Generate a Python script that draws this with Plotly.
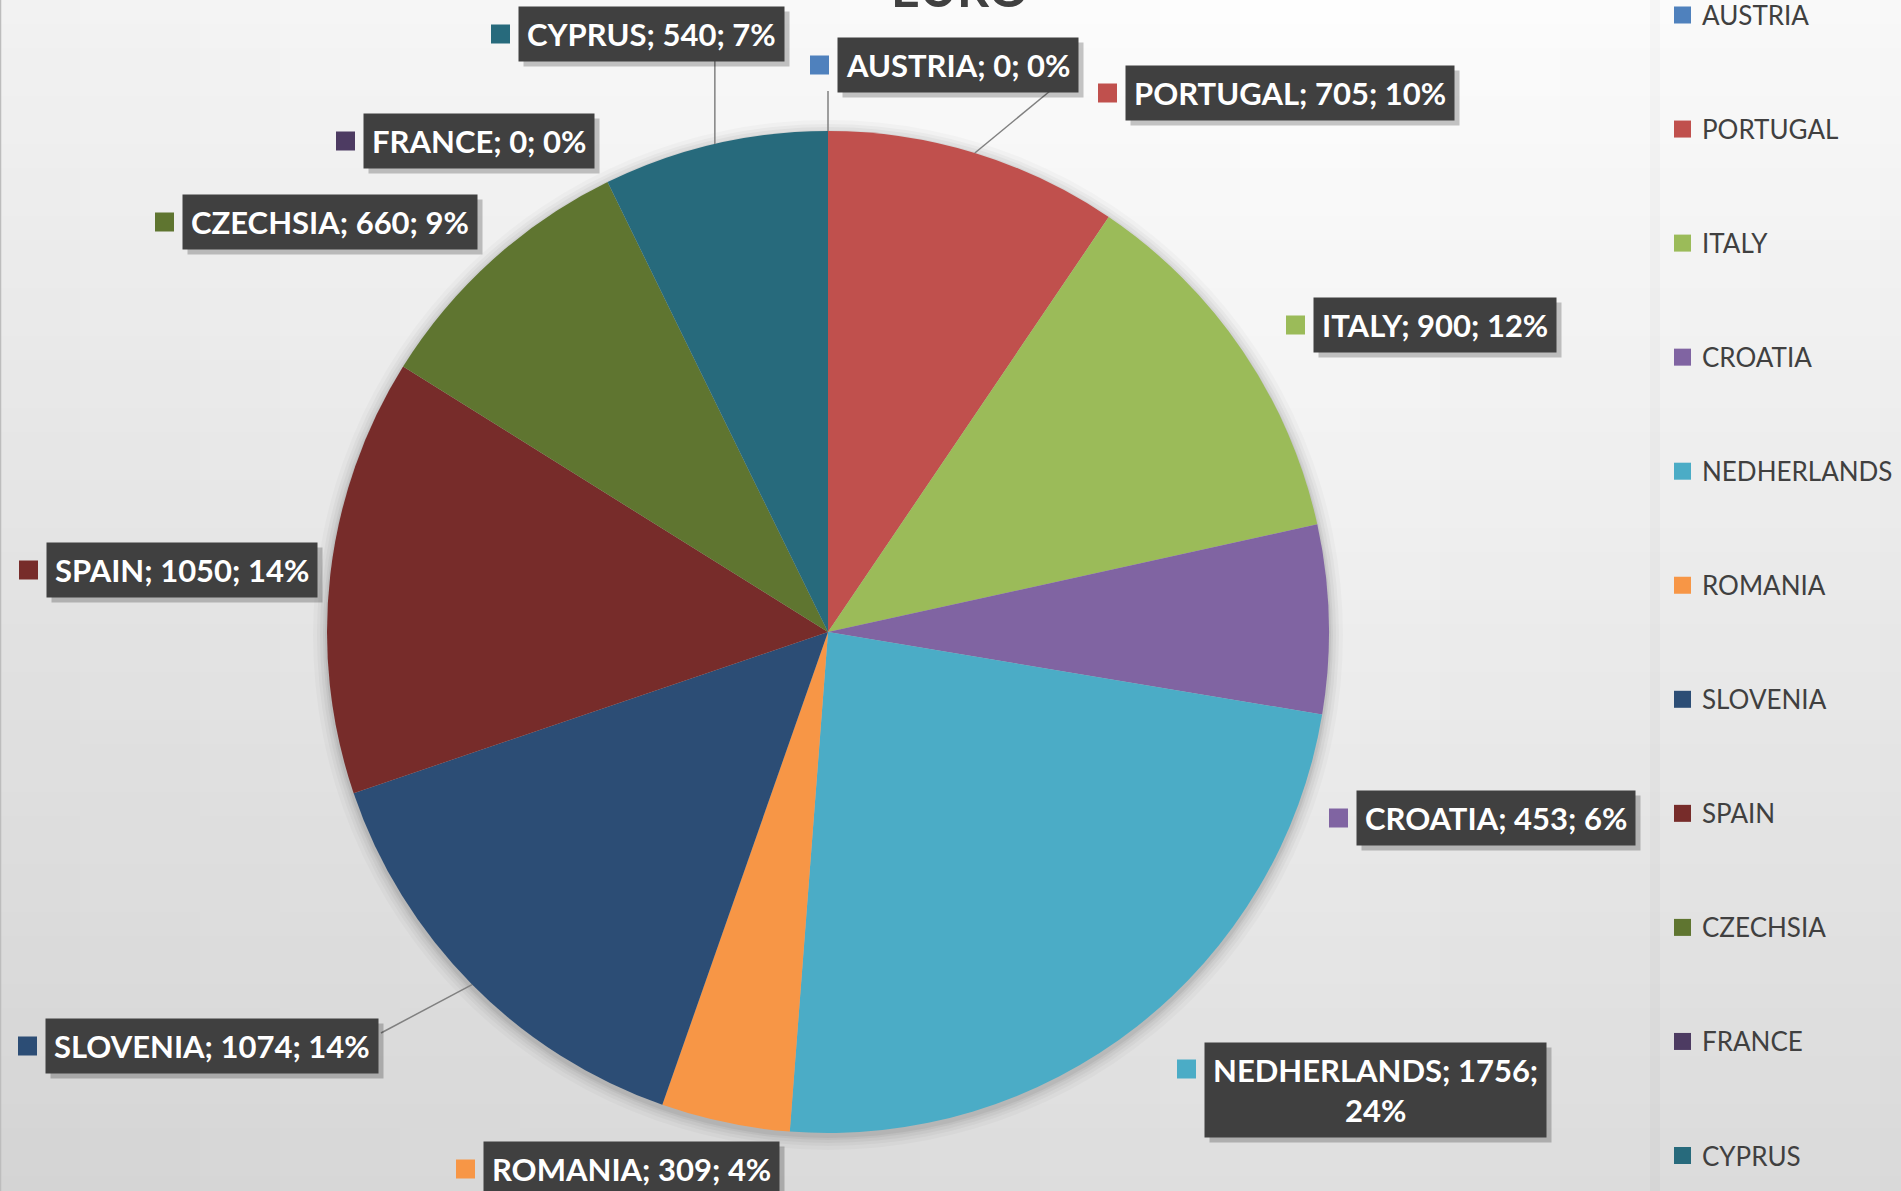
import math
import plotly.graph_objects as go

# ---------------- data ----------------
countries = ["AUSTRIA", "PORTUGAL", "ITALY", "CROATIA", "NEDHERLANDS", "ROMANIA",
             "SLOVENIA", "SPAIN", "CZECHSIA", "FRANCE", "CYPRUS"]
values = [0, 705, 900, 453, 1756, 309, 1074, 1050, 660, 0, 540]
percent_labels = [0, 10, 12, 6, 24, 4, 14, 14, 9, 0, 7]
colors = ["#4F81BD", "#C0504D", "#9BBB59", "#8064A2", "#4BACC6", "#F79646",
          "#2C4D75", "#772C2A", "#5F7530", "#4D3B62", "#276A7C"]
title_text = "EURO"

# ---------------- layout config (pixels) ----------------
W, H = 1901, 1191
CX, CY, R = 828, 632, 501

def px(x):
    return x / W

def py(y):
    return 1 - y / H

# data label boxes: left edge x, vertical centre y
label_pos = {
    "AUSTRIA": (837, 65),
    "PORTUGAL": (1125, 93),
    "ITALY": (1313, 325),
    "CROATIA": (1356, 818),
    "NEDHERLANDS": (1204, 1090),
    "ROMANIA": (483, 1169),
    "SLOVENIA": (45, 1046),
    "SPAIN": (46, 570),
    "CZECHSIA": (182, 222),
    "FRANCE": (363, 141),
    "CYPRUS": (518, 34),
}
# leader line starting points (pixels); None x => vertical line
leader_start = {
    "AUSTRIA": (None, 91),
    "CYPRUS": (None, 61),
    "PORTUGAL": (1050, 91),
    "SLOVENIA": (381, 1033),
}

LABEL_FONT = "Lato"
shapes = []
annotations = []

# ---------------- background gradient (integer pixel bands) ----------------
BAND = 24
y = 0
while y < H:
    y1 = min(y + BAND, H)
    c = round(254 - 31 * ((y + y1) / 2) / H)
    shapes.append(dict(type="rect", xref="paper", yref="paper", layer="below",
                       x0=0, x1=1, y0=py(y1), y1=py(y),
                       fillcolor=f"rgb({c},{c},{c})", line=dict(width=0)))
    y = y1
STRIP = 40
x = 0
while x < W:
    x1 = min(x + STRIP, W)
    xm = (x + x1) / 2
    a = 0.048 * abs(xm - 1300) / 1300
    shapes.append(dict(type="rect", xref="paper", yref="paper", layer="below",
                       x0=px(x), x1=px(x1), y0=0, y1=1,
                       fillcolor=f"rgba(0,0,0,{a:.4f})", line=dict(width=0)))
    x = x1
# legend panel edge + left border
shapes.append(dict(type="rect", xref="paper", yref="paper", layer="below",
                   x0=px(1650), x1=px(1660), y0=0, y1=1,
                   fillcolor="rgba(0,0,0,0.025)", line=dict(width=0)))
shapes.append(dict(type="line", xref="paper", yref="paper", layer="below",
                   x0=px(0.5), x1=px(0.5), y0=0, y1=1,
                   line=dict(color="#bdbdbd", width=1.5)))

# soft shadow behind the pie
for grow, alpha in [(14, 0.025), (10, 0.03), (7, 0.035), (4, 0.045), (2, 0.05)]:
    shapes.append(dict(type="circle", xref="paper", yref="paper", layer="below",
                       x0=px(CX - R - grow), x1=px(CX + R + grow),
                       y0=py(CY + R + grow + 3), y1=py(CY - R - grow + 3),
                       fillcolor=f"rgba(0,0,0,{alpha})", line=dict(width=0)))

# ---------------- pie ----------------
fig = go.Figure(go.Pie(
    labels=countries, values=values, sort=False, direction="clockwise", rotation=0,
    marker=dict(colors=colors, line=dict(width=0)),
    textinfo="none", hoverinfo="label+value+percent", showlegend=False,
    domain=dict(x=[px(CX - R), px(CX + R)], y=[py(CY + R), py(CY - R)]),
))

# ---------------- leader lines (endpoint from slice mid angle) ----------------
total = sum(values)
cum = 0
mid_angle = {}
for c, v in zip(countries, values):
    mid_angle[c] = (cum + v / 2) / total * 2 * math.pi
    cum += v
for c, (sx, sy) in leader_start.items():
    ang = mid_angle[c]
    ex = CX + R * math.sin(ang)
    ey = CY - R * math.cos(ang)
    if sx is None:
        sx = ex
    shapes.append(dict(type="line", xref="paper", yref="paper",
                       x0=px(sx), y0=py(sy), x1=px(ex), y1=py(ey),
                       line=dict(color="#808080", width=1.5)))

# ---------------- data labels ----------------
for c, v, p, col in zip(countries, values, percent_labels, colors):
    lx, ly = label_pos[c]
    if c == "NEDHERLANDS":
        txt = f"<b>{c}; {v};<br>{p}%</b>"
        sq_y = ly - 21
    else:
        txt = f"<b>{c}; {v}; {p}%</b>"
        sq_y = ly
    # shadow
    annotations.append(dict(xref="paper", yref="paper", x=px(lx), y=py(ly),
                            xanchor="left", yanchor="middle", text=txt, showarrow=False,
                            xshift=5, yshift=-5, align="center",
                            font=dict(family=LABEL_FONT, size=31, color="rgba(0,0,0,0)"),
                            bgcolor="rgba(0,0,0,0.22)", borderpad=8))
    annotations.append(dict(xref="paper", yref="paper", x=px(lx), y=py(ly),
                            xanchor="left", yanchor="middle", text=txt, showarrow=False,
                            align="center",
                            font=dict(family=LABEL_FONT, size=31, color="#ffffff"),
                            bgcolor="#404040", borderpad=8))
    shapes.append(dict(type="rect", xref="paper", yref="paper",
                       x0=px(lx - 27), x1=px(lx - 8), y0=py(sq_y + 9.5), y1=py(sq_y - 9.5),
                       fillcolor=col, line=dict(width=0)))

# ---------------- manual legend ----------------
LEG_Y0, LEG_STEP = 15, 114.05
for i, (c, col) in enumerate(zip(countries, colors)):
    yy = LEG_Y0 + i * LEG_STEP
    shapes.append(dict(type="rect", xref="paper", yref="paper",
                       x0=px(1674), x1=px(1691), y0=py(yy + 8.5), y1=py(yy - 8.5),
                       fillcolor=col, line=dict(width=0)))
    annotations.append(dict(xref="paper", yref="paper", x=px(1700), y=py(yy),
                            xanchor="left", yanchor="middle", text=c, showarrow=False,
                            font=dict(family=LABEL_FONT, size=26, color="#404040")))

# ---------------- title (cut off at top) ----------------
annotations.append(dict(xref="paper", yref="paper", x=px(960), y=py(20),
                        xanchor="center", yanchor="bottom", text=f"<b>{title_text}</b>",
                        showarrow=False,
                        font=dict(family=LABEL_FONT, size=50, color="#404040")))

fig.update_layout(
    width=W, height=H, margin=dict(l=0, r=0, t=0, b=0),
    paper_bgcolor="#f0f0f0", plot_bgcolor="rgba(0,0,0,0)",
    shapes=shapes, annotations=annotations, showlegend=False,
)
fig.write_html("out.html", config={"displayModeBar": False},
               post_script="document.body.style.margin='0';document.body.style.overflow='hidden';")
